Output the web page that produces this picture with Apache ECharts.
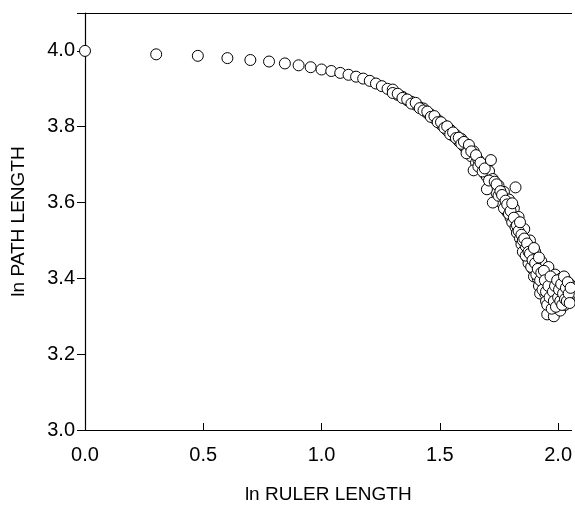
<!DOCTYPE html>
<html>
<head>
<meta charset="utf-8">
<script src="https://cdn.jsdelivr.net/npm/echarts@6/dist/echarts.min.js"></script>
<style>html,body{margin:0;padding:0;background:#fff;overflow:hidden}#c{width:575px;height:509px}</style>
</head>
<body>
<div id="c"></div>
<script>
// ln ruler length values
const rulerLn = [
0.000,0.301,0.477,0.602,0.699,0.778,0.845,0.903,0.954,1.000,
1.041,1.079,1.114,1.146,1.176,1.204,1.230,1.255,1.279,1.301,
1.322,1.342,1.362,1.380,1.398,1.415,1.431,1.447,1.462,1.477,
1.491,1.505,1.519,1.531,1.544,1.556,1.568,1.580,1.591,1.602,
1.613,1.623,1.633,1.643,1.653,1.663,1.672,1.681,1.690,1.699,
1.708,1.716,1.724,1.732,1.740,1.748,1.756,1.763,1.771,1.778,
1.785,1.792,1.799,1.806,1.813,1.820,1.826,1.833,1.839,1.845,
1.851,1.857,1.863,1.869,1.875,1.881,1.886,1.892,1.898,1.903,
1.908,1.914,1.919,1.924,1.929,1.934,1.940,1.944,1.949,1.954,
1.959,1.964,1.968,1.973,1.978,1.982,1.987,1.991,1.996,2.000,
2.004,2.009,2.013,2.017,2.021,2.025,2.029,2.033,2.037,2.041,
2.045,2.049,2.053
];
// ln path length, first set of points
const pathLnA = [
4.000,3.991,3.987,3.981,3.976,3.972,3.967,3.962,3.957,3.951,
3.947,3.942,3.937,3.932,3.927,3.921,3.914,3.907,3.900,3.898,
3.884,3.879,3.870,3.866,3.858,3.851,3.848,3.836,3.832,3.822,
3.818,3.806,3.803,3.790,3.792,3.776,3.778,3.762,3.768,3.748,
3.742,3.738,3.722,3.735,3.705,3.712,3.690,3.700,3.676,3.668,
3.683,3.650,3.662,3.638,3.625,3.645,3.612,3.598,3.628,3.590,
3.575,3.608,3.560,3.548,3.585,3.535,3.520,3.562,3.505,3.490,
3.470,3.530,3.485,3.455,3.440,3.500,3.455,3.425,3.405,3.470,
3.430,3.400,3.380,3.360,3.445,3.410,3.385,3.360,3.340,3.305,
3.430,3.395,3.370,3.345,3.320,3.300,3.410,3.385,3.360,3.340,
3.325,3.315,3.400,3.375,3.355,3.340,3.330,3.395,3.370,3.350,
3.345,3.385,3.360
];
// ln path length, second set of points from the 20th ruler length on
const pathLnB = [
3.889,3.887,3.876,3.872,3.861,3.863,3.849,3.843,3.840,3.826,
3.828,3.812,3.812,3.797,3.801,3.780,3.785,3.770,3.771,3.755,
3.760,3.730,3.752,3.735,3.685,3.725,3.695,3.705,3.682,3.690,
3.635,3.658,3.712,3.600,3.655,3.648,3.618,3.630,3.620,3.585,
3.605,3.595,3.570,3.578,3.598,3.560,3.640,3.540,3.525,3.548,
3.515,3.500,3.505,3.460,3.492,3.470,3.465,3.430,3.448,3.480,
3.440,3.410,3.425,3.455,3.395,3.415,3.370,3.420,3.395,3.365,
3.330,3.380,3.350,3.405,3.320,3.365,3.340,3.380,3.325,3.395,
3.350,3.370,3.340,3.385,3.330,3.360,3.405,3.345,3.375,3.340,
3.390,3.360,3.335,3.375
];
const xTicks = [0.0, 0.5, 1.0, 1.5, 2.0];
const yTicks = [3.0, 3.2, 3.4, 3.6, 3.8, 4.0];

const offsetB = rulerLn.length - pathLnB.length;
const data = rulerLn.map((x, i) => [x, pathLnA[i]])
  .concat(pathLnB.map((y, i) => [rulerLn[i + offsetB], y]));
const font = 'Liberation Sans, Arial, Helvetica, sans-serif';
const chart = echarts.init(document.getElementById('c'), null, {renderer: 'canvas'});
chart.setOption({
  animation: false,
  backgroundColor: '#fff',
  grid: {left: 85, top: 13, right: 0, bottom: 70, show: false, containLabel: false},
  xAxis: [{
    type: 'value', min: 0, max: 2.057, interval: 0.5, position: 'bottom',
    name: 'ln RULER LENGTH', nameLocation: 'middle', nameGap: 55,
    nameTextStyle: {color: '#000', fontSize: 19, fontFamily: font},
    axisLine: {show: true, onZero: false, lineStyle: {color: '#000', width: 1.2}},
    axisTick: {show: true, inside: true, length: 7, lineStyle: {color: '#000'}},
    axisLabel: {color: '#000', fontSize: 20, fontFamily: font, margin: 15, showMaxLabel: false,
      formatter: v => xTicks.some(t => Math.abs(t - v) < 1e-6) ? v.toFixed(1) : ''},
    splitLine: {show: false}
  }, {
    type: 'value', min: 0, max: 2.057, position: 'top',
    axisLine: {show: true, onZero: false, lineStyle: {color: '#000', width: 1.2}},
    axisTick: {show: false}, axisLabel: {show: false}, splitLine: {show: false}
  }],
  yAxis: {
    type: 'value', min: 3.0, max: 4.1, interval: 0.2,
    name: 'ln PATH LENGTH', nameLocation: 'middle', nameGap: 57, nameRotate: 90,
    nameTextStyle: {color: '#000', fontSize: 19, fontFamily: font},
    axisLine: {show: true, onZero: false, lineStyle: {color: '#000', width: 1.2}},
    axisTick: {show: true, inside: false, length: 8, lineStyle: {color: '#000'}},
    axisLabel: {color: '#000', fontSize: 20, fontFamily: font, margin: 10,
      formatter: v => yTicks.some(t => Math.abs(t - v) < 1e-6) ? v.toFixed(1) : ''},
    splitLine: {show: false}
  },
  series: [{
    type: 'scatter',
    xAxisIndex: 0,
    data: data,
    symbol: 'circle',
    symbolSize: 11,
    clip: false,
    itemStyle: {color: '#fff', borderColor: '#000', borderWidth: 1, opacity: 1}
  }]
});
</script>
</body>
</html>
